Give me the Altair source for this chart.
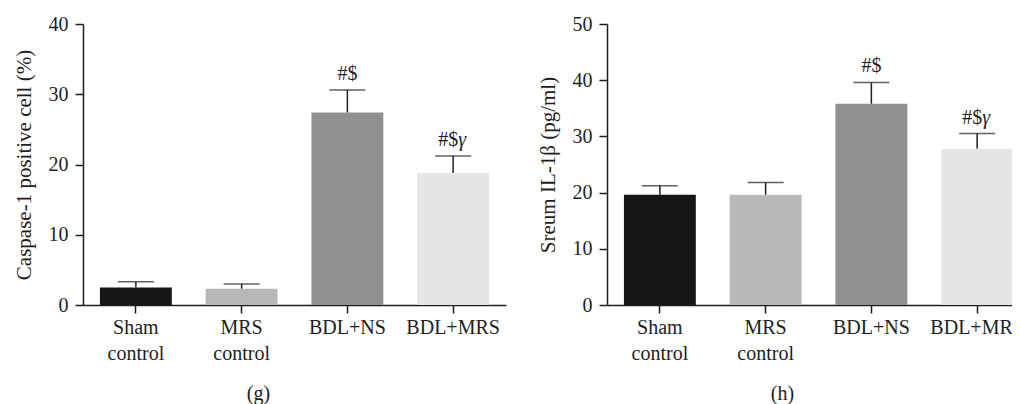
import altair as alt
import pandas as pd

categories = ["Sham control", "MRS control", "BDL+NS", "BDL+MRS"]
bar_colors = ["#161616", "#b8b8b8", "#8f918f", "#e6e6e6"]

# Panel (g): Caspase-1 positive cell (%)
mean_g = [2.5, 2.3, 27.4, 18.8]
upper_g = [3.3, 3.0, 30.6, 21.2]

# Panel (h): Serum IL-1beta (pg/ml)
mean_h = [19.6, 19.6, 35.8, 27.8]
upper_h = [21.2, 21.8, 39.6, 30.5]

annot_main = ["", "", "#$", "#$"]
annot_italic = ["", "", "", "γ"]

FONT = "Liberation Serif"
FS = 20
TFS = 21
INK = "#1e1e1e"


def panel(means, uppers, ymax, ytitle, caption):
    df = pd.DataFrame({
        "cat": categories,
        "mean": means,
        "upper": uppers,
        "ann": annot_main,
        "ann_it": annot_italic,
    })
    x = alt.X("cat:N", sort=categories,
              scale=alt.Scale(paddingInner=0.32, paddingOuter=0.16),
              axis=alt.Axis(title=caption, labelAngle=0, labelAlign="center",
                            labelExpr="split(datum.label, ' ')",
                            labelLineHeight=26, labelPadding=14,
                            tickSize=8, titlePadding=20,
                            titleX=175, titleFontWeight="normal",
                            titleFontSize=FS))
    y = alt.Y("mean:Q",
              scale=alt.Scale(domain=[0, ymax], nice=False),
              axis=alt.Axis(title=ytitle, values=list(range(0, ymax + 1, 10)),
                            tickSize=8, labelPadding=7, titlePadding=14,
                            titleFontWeight="normal"))
    base = alt.Chart(df)
    err = base.mark_rule(color=INK, strokeWidth=1.5).encode(
        x=alt.X("cat:N", sort=categories), y="mean:Q", y2="upper:Q")
    cap = base.mark_tick(color=INK, size=36, thickness=1.5, orient="horizontal").encode(
        x=alt.X("cat:N", sort=categories), y="upper:Q")
    bars = base.mark_bar().encode(
        x=x, y=y,
        color=alt.Color("cat:N", scale=alt.Scale(domain=categories, range=bar_colors),
                        legend=None))
    txt_c = base.transform_filter("datum.ann != '' && datum.ann_it == ''").mark_text(
        font=FONT, fontSize=FS, color=INK, baseline="middle", align="center", dy=-16
    ).encode(x=alt.X("cat:N", sort=categories), y="upper:Q", text="ann:N")
    txt_r = base.transform_filter("datum.ann_it != ''").mark_text(
        font=FONT, fontSize=FS, color=INK, baseline="middle", align="right", dy=-16, dx=5
    ).encode(x=alt.X("cat:N", sort=categories), y="upper:Q", text="ann:N")
    txt_i = base.transform_filter("datum.ann_it != ''").mark_text(
        font=FONT, fontSize=FS, color=INK, baseline="middle", align="left", dy=-16, dx=5,
        fontStyle="italic"
    ).encode(x=alt.X("cat:N", sort=categories), y="upper:Q", text="ann_it:N")
    return alt.layer(err, bars, cap, txt_c, txt_r, txt_i).properties(width=423, height=281)


left = panel(mean_g, upper_g, 40, "Caspase-1 positive cell (%)", "(g)")
right = panel(mean_h, upper_h, 50, "Sreum IL-1β (pg/ml)", "(h)")

chart = alt.hconcat(left, right, spacing=101, bounds="flush").properties(
    autosize=alt.AutoSizeParams(type="none"),
    padding={"left": 75, "top": 16, "right": 929, "bottom": 400},
).configure_view(
    stroke=None
).configure_axis(
    labelFont=FONT, labelFontSize=FS, labelColor=INK,
    titleFont=FONT, titleFontSize=TFS, titleColor=INK,
    domainColor=INK, tickColor=INK, domainWidth=1.5, tickWidth=1.5, grid=False
)

chart.save("out.html", embed_options={"renderer": "svg", "actions": False})
